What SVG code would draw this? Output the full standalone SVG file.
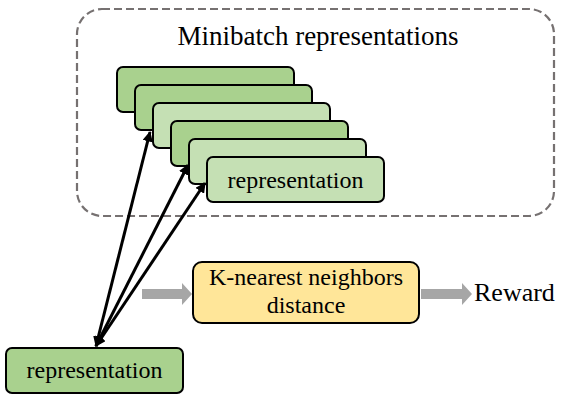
<svg xmlns="http://www.w3.org/2000/svg" width="580" height="400" viewBox="0 0 580 400">
<style>
text{font-family:"Liberation Serif","Times New Roman",serif;fill:#000;text-anchor:middle}
.g1{fill:#a9d18e;stroke:#000;stroke-width:2}
.g2{fill:#c5e0b4;stroke:#000;stroke-width:2}
.conn{stroke:#000;stroke-width:3;fill:none;marker-start:url(#ah);marker-end:url(#ah)}
.gray{fill:#a6a6a6}
</style>
<defs>
<marker id="ah" viewBox="0 0 10 10" refX="9" refY="5" markerWidth="3.5" markerHeight="3.5" orient="auto-start-reverse" markerUnits="strokeWidth">
<path d="M0,0 L10,5 L0,10 Z" fill="#000"/>
</marker>
</defs>
<g id="minibatch">
<rect x="77" y="9" width="477" height="207" rx="25" fill="none" stroke="#767171" stroke-width="2.2" stroke-dasharray="8,4"/>
<text x="318" y="45" font-size="27">Minibatch representations</text>
</g>
<g id="stack">
<rect class="g1" x="117" y="67" width="177" height="45" rx="6"/>
<rect class="g1" x="135" y="85" width="177" height="45" rx="6"/>
<rect class="g2" x="153" y="103" width="177" height="45" rx="6"/>
<rect class="g1" x="171" y="121" width="177" height="45" rx="6"/>
<rect class="g2" x="189" y="139" width="177" height="45" rx="6"/>
<rect class="g2" x="207" y="157" width="177" height="45" rx="6"/>
<text x="295.5" y="188" font-size="24">representation</text>
</g>
<g id="query">
<rect class="g1" x="6" y="348" width="177" height="45" rx="6"/>
<text x="94.5" y="378" font-size="24">representation</text>
</g>
<g id="knn">
<rect x="193" y="262" width="226" height="61" rx="9" fill="#ffe699" stroke="#000" stroke-width="2"/>
<text x="306" y="285" font-size="24">K-nearest neighbors</text>
<text x="306" y="313" font-size="24">distance</text>
</g>
<g id="reward">
<text x="474" y="301" font-size="26" style="text-anchor:start">Reward</text>
</g>
<g id="connectors">
<line class="conn" x1="96" y1="346" x2="150" y2="132"/>
<line class="conn" x1="96" y1="346" x2="188" y2="165"/>
<line class="conn" x1="96" y1="346" x2="205" y2="183"/>
<path class="gray" d="M142,289 H182 V283 L192,294 L182,305 V299 H142 Z"/>
<path class="gray" d="M421,289 H462 V283 L472,294 L462,305 V299 H421 Z"/>
</g>
</svg>
